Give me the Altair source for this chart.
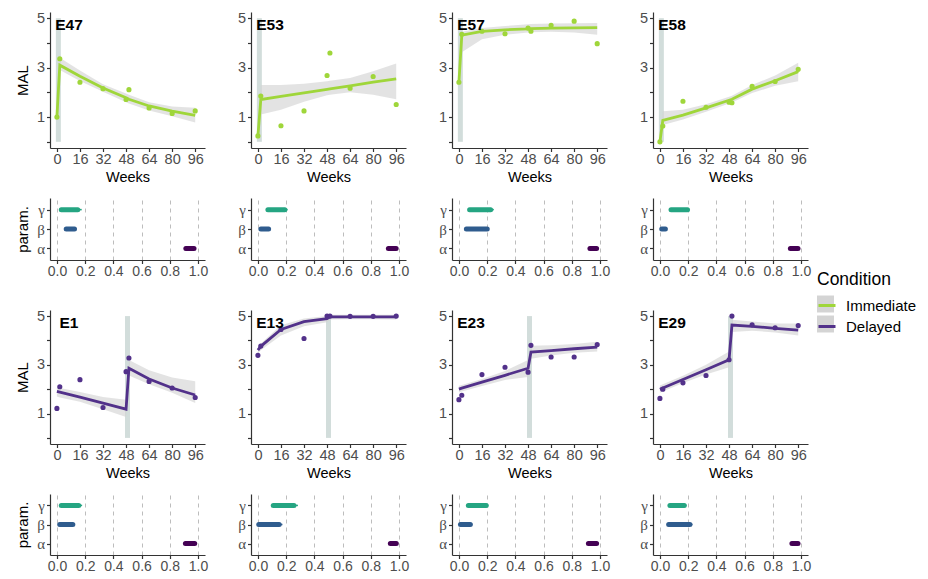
import altair as alt
import pandas as pd

# ---------------- data ----------------
weeks = [0, 2, 16, 32, 48, 50, 64, 80, 96]
week_ticks = [0, 16, 32, 48, 64, 80, 96]
mal_ticks = [0, 1, 2, 3, 4, 5]
param_names = ["γ", "β", "α"]
param_ticks = [0.0, 0.2, 0.4, 0.6, 0.8, 1.0]
conditions = ["Immediate", "Delayed"]
condition_keys = ["Immediate key", "Delayed key"]
condition_colors = ["#9fd63a", "#52318a"]
ribbon_colors = ["#d4d4d4", "#d4d4d4"]
param_colors = ["#25a582", "#2f5c8e", "#440154"]
band_week = {"Immediate": 1, "Delayed": 49}

subjects_top = ["E47", "E53", "E57", "E58"]
subjects_bottom = ["E1", "E13", "E23", "E29"]
subject_condition = {"E47": "Immediate", "E53": "Immediate", "E57": "Immediate", "E58": "Immediate",
                     "E1": "Delayed", "E13": "Delayed", "E23": "Delayed", "E29": "Delayed"}

e47_obs = [1.0, 3.36, 2.41, 2.15, 1.71, 2.11, 1.37, 1.15, 1.25]
e47_fit = [1.0, 3.1, 2.65, 2.18, 1.78, 1.72, 1.45, 1.24, 1.07]
e47_lo = [0.95, 2.9, 2.46, 2.02, 1.6, 1.55, 1.27, 1.03, 0.78]
e47_hi = [1.05, 3.4, 2.88, 2.33, 1.95, 1.9, 1.6, 1.43, 1.38]

e53_obs = [0.24, 1.85, 0.65, 1.25, 2.68, 3.59, 2.17, 2.64, 1.51]
e53_fit = [0.24, 1.71, 1.84, 1.98, 2.12, 2.14, 2.26, 2.41, 2.55]
e53_lo = [0.2, 1.1, 1.3, 1.62, 1.88, 1.9, 2.0, 1.9, 1.72]
e53_hi = [0.28, 2.3, 2.3, 2.35, 2.45, 2.47, 2.58, 2.85, 3.17]

e57_obs = [2.41, 4.35, 4.47, 4.37, 4.6, 4.47, 4.71, 4.88, 3.97]
e57_fit = [2.41, 4.31, 4.47, 4.53, 4.57, 4.58, 4.6, 4.61, 4.62]
e57_lo = [2.36, 3.62, 4.15, 4.33, 4.42, 4.43, 4.45, 4.42, 4.33]
e57_hi = [2.46, 4.45, 4.6, 4.68, 4.75, 4.76, 4.79, 4.8, 4.81]

e58_obs = [0.0, 0.64, 1.64, 1.4, 1.6, 1.58, 2.24, 2.44, 2.93]
e58_fit = [0.0, 0.87, 1.08, 1.37, 1.68, 1.72, 2.13, 2.47, 2.84]
e58_lo = [-0.02, 0.68, 0.9, 1.22, 1.55, 1.59, 1.97, 2.27, 2.45]
e58_hi = [0.04, 1.24, 1.3, 1.52, 1.82, 1.86, 2.3, 2.68, 3.2]

e1_obs = [1.21, 2.1, 2.39, 1.25, 2.72, 3.28, 2.32, 2.05, 1.66]
e1_fit = [1.91, 1.88, 1.67, 1.43, 1.18, 2.86, 2.42, 2.05, 1.76]
e1_lo = [1.7, 1.66, 1.48, 1.18, 0.86, 2.56, 2.2, 1.85, 1.43]
e1_hi = [2.07, 2.05, 1.88, 1.68, 1.57, 3.2, 2.78, 2.48, 2.33]

e13_obs = [3.39, 3.77, 4.45, 4.08, 5.0, 5.0, 4.99, 4.99, 5.0]
e13_fit = [3.6, 3.76, 4.45, 4.77, 4.9, 4.97, 4.97, 4.97, 4.97]
e13_lo = [3.45, 3.6, 4.2, 4.58, 4.75, 4.86, 4.87, 4.87, 4.86]
e13_hi = [3.72, 3.88, 4.62, 4.9, 5.0, 5.05, 5.05, 5.05, 5.06]

e23_obs = [1.57, 1.75, 2.6, 2.9, 2.7, 3.8, 3.32, 3.32, 3.83]
e23_fit = [2.0, 2.04, 2.29, 2.57, 2.86, 3.52, 3.58, 3.66, 3.73]
e23_lo = [1.86, 1.9, 2.13, 2.38, 2.5, 3.25, 3.38, 3.5, 3.55]
e23_hi = [2.14, 2.17, 2.42, 2.75, 3.2, 3.78, 3.8, 3.85, 3.95]

e29_obs = [1.62, 2.0, 2.26, 2.56, 3.21, 5.0, 4.64, 4.52, 4.61]
e29_fit = [2.0, 2.05, 2.4, 2.8, 3.21, 4.63, 4.58, 4.5, 4.42]
e29_lo = [1.85, 1.9, 2.25, 2.6, 2.9, 4.35, 4.4, 4.33, 4.2]
e29_hi = [2.15, 2.2, 2.55, 3.0, 3.55, 4.85, 4.78, 4.7, 4.7]

# posterior intervals, subject order: E47, E53, E57, E58, E1, E13, E23, E29
gamma_in_lo = [0.03, 0.07, 0.075, 0.078, 0.03, 0.108, 0.066, 0.07]
gamma_in_hi = [0.147, 0.19, 0.224, 0.195, 0.154, 0.255, 0.193, 0.172]
gamma_out_lo = [0.025, 0.065, 0.07, 0.072, 0.025, 0.1, 0.06, 0.065]
gamma_out_hi = [0.175, 0.21, 0.247, 0.207, 0.178, 0.283, 0.207, 0.188]
beta_in_lo = [0.065, 0.02, 0.052, 0.012, 0.019, 0.005, 0.01, 0.061]
beta_in_hi = [0.124, 0.075, 0.2, 0.038, 0.112, 0.15, 0.08, 0.212]
beta_out_lo = [0.06, 0.015, 0.045, 0.01, 0.015, 0.0, 0.005, 0.055]
beta_out_hi = [0.13, 0.085, 0.212, 0.04, 0.12, 0.173, 0.094, 0.23]
alpha_in_lo = [0.914, 0.925, 0.929, 0.925, 0.911, 0.939, 0.918, 0.936]
alpha_in_hi = [0.972, 0.98, 0.976, 0.979, 0.977, 0.981, 0.976, 0.979]
alpha_out_lo = [0.91, 0.92, 0.925, 0.92, 0.907, 0.935, 0.913, 0.932]
alpha_out_hi = [0.976, 0.985, 0.98, 0.983, 0.981, 0.985, 0.98, 0.983]

series = {
    "E47": (e47_obs, e47_fit, e47_lo, e47_hi),
    "E53": (e53_obs, e53_fit, e53_lo, e53_hi),
    "E57": (e57_obs, e57_fit, e57_lo, e57_hi),
    "E58": (e58_obs, e58_fit, e58_lo, e58_hi),
    "E1": (e1_obs, e1_fit, e1_lo, e1_hi),
    "E13": (e13_obs, e13_fit, e13_lo, e13_hi),
    "E23": (e23_obs, e23_fit, e23_lo, e23_hi),
    "E29": (e29_obs, e29_fit, e29_lo, e29_hi),
}
all_subjects = subjects_top + subjects_bottom

# ---------------- styling ----------------
PANEL_W = 155
FONT = "Liberation Sans"
CLEAR = "rgba(0,0,0,0)"
LEG_X, LEG_Y = 767, 259
stroke_scale = alt.Scale(domain=conditions, range=condition_colors)
fill_scale = alt.Scale(domain=condition_keys, range=ribbon_colors)
common_leg = dict(title="Condition", orient="none", legendX=LEG_X, legendY=LEG_Y,
                  symbolSize=289, titleFontSize=17.5, labelFontSize=15, titleFontWeight="normal",
                  titleFont=FONT, labelFont=FONT, rowPadding=3, titlePadding=7, labelOffset=9)
line_legend = alt.Legend(symbolType="stroke", symbolStrokeWidth=3, titleColor="#000000",
                         labelColor="#000000", **common_leg)
key_legend = alt.Legend(symbolType="square", symbolStrokeWidth=0, symbolOpacity=1,
                        titleColor=CLEAR, labelColor=CLEAR, labelExpr="''", **common_leg)


def main_panel(name, first, height):
    cond = subject_condition[name]
    obs, fit, lo, hi = series[name]
    df = pd.DataFrame({"Week": weeks, "MAL": obs, "Fit": fit, "Lo": lo, "Hi": hi,
                       "Condition": [cond] * len(weeks),
                       "Key": [condition_keys[conditions.index(cond)]] * len(weeks)})
    xsc = alt.Scale(domain=[-4.8, 102.8], nice=False, zero=False)
    ysc = alt.Scale(domain=[-0.25, 5.25], nice=False, zero=False)
    xax = alt.Axis(values=week_ticks, title="Weeks", grid=False, labelFontSize=14.5)
    if first:
        yax = alt.Axis(values=mal_ticks, grid=False, title="MAL", labelFontSize=14.5,
                       labelExpr="datum.value % 2 == 1 ? datum.label : ''")
    else:
        yax = alt.Axis(values=mal_ticks, grid=False, title=None, labelFontSize=14.5,
                       labelExpr="datum.value % 2 == 1 ? datum.label : ''")

    def X(f):
        return alt.X(f, type="quantitative", scale=xsc, axis=xax)

    def Y(f):
        return alt.Y(f, type="quantitative", scale=ysc, axis=yax)

    band_df = pd.DataFrame({"Week": [band_week[cond]], "B0": [0], "B1": [5]})
    band = alt.Chart(band_df).mark_rule(color="#d2dddb", strokeWidth=5).encode(
        x=X("Week"), y=Y("B0"), y2="B1")
    base = alt.Chart(df)
    ribbon = base.mark_area(opacity=0.65).encode(
        x=X("Week"), y=Y("Lo"), y2="Hi",
        fill=alt.Fill("Key:N", scale=fill_scale, legend=key_legend))
    pts = base.mark_point(filled=False, size=6, strokeWidth=2.7, opacity=1).encode(
        x=X("Week"), y=Y("MAL"),
        stroke=alt.Stroke("Condition:N", scale=stroke_scale, legend=line_legend))
    line = base.mark_line(strokeWidth=2.8).encode(
        x=X("Week"), y=Y("Fit"),
        stroke=alt.Stroke("Condition:N", scale=stroke_scale, legend=line_legend))
    label = alt.Chart(pd.DataFrame({"label": [name]})).mark_text(
        align="center", baseline="alphabetic", fontWeight="bold", fontSize=15.5,
        font=FONT, color="#000000").encode(x=alt.value(19), y=alt.value(18), text="label:N")
    return alt.layer(band, ribbon, pts, line, label).properties(width=PANEL_W, height=height)


def param_panel(name, first, height):
    i = all_subjects.index(name)
    df = pd.DataFrame({
        "Param": param_names,
        "InLo": [gamma_in_lo[i], beta_in_lo[i], alpha_in_lo[i]],
        "InHi": [gamma_in_hi[i], beta_in_hi[i], alpha_in_hi[i]],
        "OutLo": [gamma_out_lo[i], beta_out_lo[i], alpha_out_lo[i]],
        "OutHi": [gamma_out_hi[i], beta_out_hi[i], alpha_out_hi[i]],
    })
    xsc = alt.Scale(domain=[-0.05, 1.05], nice=False, zero=False)
    xax = alt.Axis(values=param_ticks, format=".1f", title=None, grid=True, gridDash=[4, 4],
                   gridColor="#bdbdbd", gridWidth=1, labelFontSize=14)
    ysc = alt.Scale(type="point", domain=param_names, padding=0.6)
    if first:
        yax = alt.Axis(title="param.", grid=False, labelFont="Liberation Serif", labelFontSize=15)
    else:
        yax = alt.Axis(title=None, grid=False, labelFont="Liberation Serif", labelFontSize=15)
    pcolor = alt.Color("Param:N", scale=alt.Scale(domain=param_names, range=param_colors), legend=None)
    base = alt.Chart(df)
    thin = base.mark_rule(strokeWidth=1.5).encode(
        x=alt.X("OutLo:Q", scale=xsc, axis=xax), x2="OutHi",
        y=alt.Y("Param:N", scale=ysc, axis=yax, sort=param_names), color=pcolor)
    thick = base.mark_rule(strokeWidth=5, strokeCap="round").encode(
        x=alt.X("InLo:Q", scale=xsc, axis=xax), x2="InHi",
        y=alt.Y("Param:N", scale=ysc, axis=yax, sort=param_names), color=pcolor)
    return alt.layer(thin, thick).properties(width=PANEL_W, height=height)


panels = []
panels += [main_panel(s, j == 0, 136) for j, s in enumerate(subjects_top)]
panels += [param_panel(s, j == 0, 62) for j, s in enumerate(subjects_top)]
panels += [main_panel(s, j == 0, 134) for j, s in enumerate(subjects_bottom)]
panels += [param_panel(s, j == 0, 61) for j, s in enumerate(subjects_bottom)]

chart = alt.concat(*panels, columns=4, spacing={"row": 50, "column": 46}, bounds="flush").properties(
    padding={"left": 7, "top": 2, "right": 0, "bottom": 2}
).configure_view(stroke=None).configure_axis(
    domainColor="#333333", tickColor="#333333", labelColor="#4d4d4d", titleColor="#000000",
    labelFont=FONT, titleFont=FONT, titleFontSize=14.5, titleFontWeight="normal",
    tickSize=3.5, domainWidth=1.2, tickWidth=1.2, labelPadding=1, titlePadding=4
).configure_axisY(titleFontSize=15, labelPadding=2, titlePadding=6)

chart.save("out.html", embed_options={"renderer": "svg", "actions": False})
